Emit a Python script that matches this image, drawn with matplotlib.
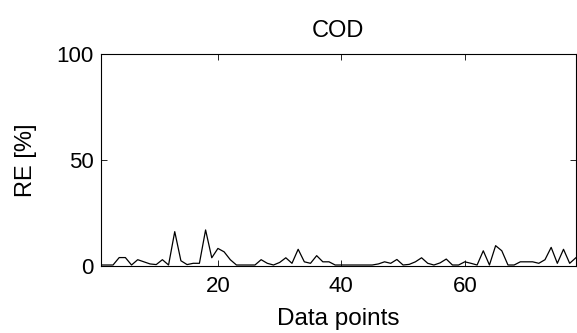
import matplotlib
matplotlib.use("Agg")
import matplotlib.pyplot as plt
import numpy as np

plt.rcParams['font.family'] = ['Liberation Sans', 'DejaVu Sans']

# relative error of COD per data point
re_cod = [0.5, 0.5, 0.5, 4, 4, 0.5, 3, 2, 1, 0.7,
          3, 0.5, 16.2, 2.5, 0.7, 1.3, 1.3, 17, 3.9, 8.3,
          6.7, 3, 0.5, 0.5, 0.5, 0.5, 3, 1.3, 0.5, 1.7,
          3.9, 1.3, 7.9, 2, 1.3, 4.9, 2, 2, 0.5, 0.5,
          0.5, 0.5, 0.5, 0.5, 0.5, 1, 2, 1.3, 3.1, 0.5,
          0.8, 2, 3.9, 1.3, 0.5, 1.5, 3.3, 0.5, 0.5, 2,
          1.3, 0.5, 7.2, 0.5, 9.6, 7.2, 0.5, 0.5, 2, 2,
          2, 1.3, 3, 8.8, 1.3, 7.9, 1.3, 3.9]
points = np.arange(1, len(re_cod) + 1)
yticks = [0, 50, 100]
xticks = [20, 40, 60]

fig = plt.figure(figsize=(5.77, 3.33), dpi=100)
ax = fig.add_axes([0.1745, 0.201, 0.8235, 0.638])
ax.plot(points, re_cod, color='black', linewidth=0.9)

ax.set_xlim(1, len(re_cod))
ax.set_ylim(0, 100)
ax.set_xticks(xticks)
ax.set_yticks(yticks)
ax.tick_params(direction='in', top=True, right=True, labelsize=16, length=4, width=0.6)
ax.tick_params(axis='x', pad=7)
ax.tick_params(axis='y', pad=5)
for s in ax.spines.values():
    s.set_linewidth(0.8)

ax.set_title('COD', fontsize=17, pad=12)
ax.set_xlabel('Data points', fontsize=17.5, labelpad=8)
ax.set_ylabel('RE [%]', fontsize=17, labelpad=14)

fig.savefig('out.png', dpi=100)
